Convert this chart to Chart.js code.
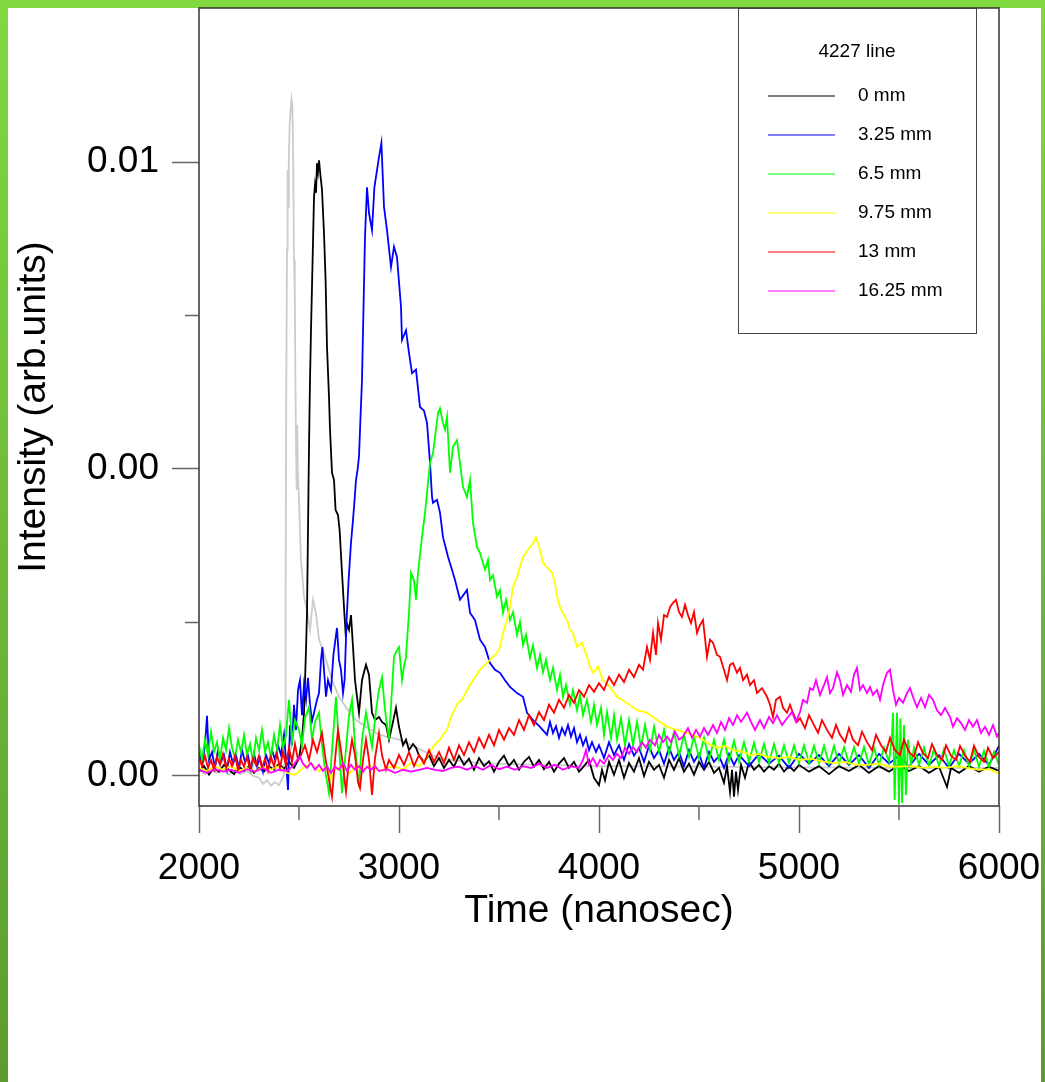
<!DOCTYPE html>
<html>
<head>
<meta charset="utf-8">
<title>4227 line</title>
<script src="https://cdn.jsdelivr.net/npm/chart.js@4.4.1/dist/chart.umd.min.js"></script>
<style>
  html, body { margin: 0; padding: 0; }
  body { width: 1045px; height: 1082px; overflow: hidden; position: relative;
         background: linear-gradient(to bottom, #80d941, #5c9c2f); }
  #paper { position: absolute; left: 8px; top: 8px; width: 1033px; height: 1074px; background: #fff; }
  #plot { position: absolute; left: 0; top: 0; }
</style>
</head>
<body>
<div id="paper"></div>
<canvas id="plot" width="1045" height="1082"></canvas>
<script>
// [time (ns), intensity (arb. units)]

// early trace, light grey, not in the legend
var greyTrace = [
  [2000,0.0001],[2030,0.00003],[2060,0.00013],[2090,0.00005],[2120,0.0001],[2150,0.00002],[2180,0.00011],[2210,0.00003],
  [2240,0.00008],[2270,0],[2300,-0.00003],[2320,-0.00013],[2340,-0.00007],[2360,-0.00016],[2380,-0.0001],[2400,-0.00015],
  [2415,-0.00005],[2425,0.00002],[2430,0.00059],[2433,0.00287],[2436,0.00612],[2440,0.00857],[2443,0.00987],[2446,0.00927],
  [2449,0.01003],[2453,0.0106],[2458,0.01085],[2463,0.01103],[2467,0.01093],[2471,0.01003],[2475,0.0084],[2479,0.00787],
  [2482,0.00645],[2485,0.00547],[2488,0.00466],[2491,0.00572],[2495,0.00482],[2500,0.0045],[2510,0.00352],[2525,0.00292],
  [2540,0.0027],[2555,0.00238],[2570,0.00287],[2585,0.00265],[2600,0.00222],[2620,0.00205],[2640,0.00184],[2665,0.00156],
  [2700,0.00129],[2735,0.00112],[2785,0.00091],[2835,0.0008],[2885,0.0007],[2935,0.00064],[3000,0.00059],[3085,0.00046],
  [3200,0.00029],[3400,0.00021],[3700,0.00018],[4000,0.00016],[4500,0.00015],[5000,0.00014],[5500,0.00013],[6000,0.00013]
];

// 0 mm
var trace0mm = [
  [2000,0.00007],[2025,0.00016],[2050,0.00002],[2075,0.00013],[2100,0.00007],[2125,0.00018],[2150,0.0001],[2175,0.00003],
  [2200,0.00015],[2225,0.00008],[2250,0.00016],[2275,0.00005],[2300,0.00013],[2325,0.00007],[2350,0.00016],[2375,0.0001],
  [2400,0.0002],[2425,0.00011],[2450,0.00023],[2475,0.00013],[2500,0.00029],[2515,0.00059],[2525,0.00103],[2535,0.00205],
  [2540,0.00265],[2545,0.00401],[2550,0.00536],[2555,0.00645],[2560,0.00726],[2568,0.0084],[2575,0.00943],[2580,0.00963],
  [2585,0.0095],[2590,0.00998],[2595,0.00984],[2600,0.01003],[2607,0.00979],[2615,0.00955],[2625,0.00884],[2633,0.00808],
  [2640,0.00699],[2650,0.00617],[2655,0.00564],[2665,0.00494],[2675,0.00482],[2683,0.00433],[2695,0.00425],[2703,0.00401],
  [2715,0.00331],[2725,0.00275],[2733,0.00233],[2742,0.00246],[2750,0.00238],[2760,0.00262],[2770,0.0021],[2780,0.00156],
  [2790,0.00129],[2800,0.00103],[2815,0.00156],[2825,0.00169],[2835,0.00181],[2850,0.00165],[2865,0.00103],[2880,0.00091],
  [2900,0.00096],[2915,0.00088],[2935,0.00083],[2950,0.00059],[2970,0.00088],[2985,0.00111],[3000,0.0008],[3020,0.0005],
  [3035,0.00059],[3050,0.00042],[3070,0.00052],[3085,0.00046],[3100,0.00033],[3125,0.00023],[3150,0.00034],[3175,0.00016],
  [3200,0.00029],[3225,0.00013],[3250,0.00026],[3275,0.00015],[3300,0.00033],[3325,0.00018],[3350,0.00028],[3375,0.0001],
  [3400,0.00029],[3425,0.00016],[3450,0.00024],[3475,0.00007],[3500,0.00023],[3525,0.00033],[3550,0.00016],[3575,0.00026],
  [3600,0.0001],[3625,0.00023],[3650,0.00031],[3675,0.00015],[3700,0.00026],[3725,0.00011],[3750,0.00023],[3775,0.00007],
  [3800,0.0002],[3825,0.00029],[3850,0.00013],[3875,0.00023],[3900,0.00007],[3925,0.00016],[3950,0.00026],[3975,-0.00003],
  [4000,-0.00015],[4015,0.0001],[4030,-0.00007],[4050,0.00023],[4075,0.00002],[4100,0.00026],[4125,-0.00003],[4150,0.00021],
  [4175,0.00007],[4200,0.00029],[4225,0],[4250,0.00023],[4275,0.0001],[4300,0.00018],[4325,-0.00003],[4350,0.00026],
  [4375,0.0001],[4400,0.00029],[4425,0.00007],[4450,0.0002],[4475,0.00002],[4500,0.00023],[4525,0.0001],[4550,0.00023],
  [4575,0.00005],[4600,0.00013],[4625,-0.00011],[4640,0.00016],[4655,-0.00026],[4665,0.0001],[4675,-0.00034],[4685,0.00007],
  [4695,-0.00023],[4710,0.00018],[4730,-0.00003],[4750,0.00023],[4775,0.0001],[4800,0.00018],[4825,0.00007],[4850,0.00016],
  [4875,0.0001],[4900,0.0002],[4925,0.00007],[4950,0.00016],[4975,0.00008],[5000,0.00018],[5050,0.00007],[5100,0.00016],
  [5150,0.00003],[5200,0.00016],[5250,0.00008],[5300,0.00018],[5350,0.00005],[5400,0.00016],[5450,0.00007],[5500,0.00018],
  [5550,0.00008],[5600,0.00016],[5650,0.00005],[5700,0.00015],[5740,-0.00018],[5760,0.00013],[5800,0.00005],[5850,0.00016],
  [5900,0.00007],[5950,0.00015],[6000,0.00008]
];

// 3.25 mm
var trace325mm = [
  [2000,0.00039],[2015,0.00018],[2030,0.0005],[2040,0.00098],[2050,0.00026],[2065,0.00039],[2080,0.00013],[2095,0.00042],
  [2110,0.00023],[2125,0.00034],[2140,0.0001],[2155,0.00039],[2170,0.0002],[2185,0.00033],[2200,0.00013],[2215,0.00042],
  [2230,0.00023],[2245,0.00033],[2260,0.0001],[2275,0.00036],[2290,0.00016],[2305,0.00029],[2320,0.00007],[2335,0.00034],
  [2350,0.0002],[2365,0.00042],[2380,0.00026],[2395,0.0005],[2410,0.00034],[2425,0.00067],[2435,0.00026],[2445,-0.00023],
  [2455,0.00083],[2465,0.0005],[2475,0.00116],[2485,0.00075],[2495,0.0014],[2505,0.00156],[2515,0.00099],[2525,0.00148],
  [2535,0.00124],[2545,0.0016],[2555,0.00116],[2565,0.00089],[2575,0.00103],[2590,0.00124],[2600,0.00135],[2610,0.00189],
  [2617,0.0021],[2625,0.00173],[2635,0.00129],[2645,0.00156],[2660,0.0014],[2672,0.00197],[2682,0.00222],[2690,0.00241],
  [2700,0.00189],[2710,0.00173],[2720,0.00135],[2728,0.00156],[2738,0.00254],[2748,0.00319],[2760,0.0038],[2770,0.00417],
  [2778,0.0045],[2785,0.00482],[2793,0.00499],[2800,0.0052],[2807,0.0058],[2815,0.00645],[2822,0.00754],[2830,0.00878],
  [2840,0.00959],[2850,0.00917],[2865,0.00889],[2877,0.00959],[2890,0.00987],[2900,0.01008],[2912,0.01031],[2925,0.00927],
  [2940,0.00889],[2960,0.00829],[2975,0.00862],[2990,0.00845],[3010,0.00764],[3015,0.0071],[3035,0.00726],[3050,0.00689],
  [3065,0.00656],[3085,0.00662],[3105,0.00601],[3125,0.00595],[3140,0.00575],[3155,0.0051],[3165,0.00455],[3170,0.00445],
  [3190,0.0045],[3205,0.00429],[3220,0.00389],[3245,0.00357],[3265,0.00336],[3280,0.00319],[3305,0.00287],[3340,0.00303],
  [3355,0.00266],[3380,0.00254],[3405,0.00222],[3430,0.0021],[3455,0.00184],[3480,0.00173],[3505,0.00168],[3530,0.00156],
  [3555,0.00145],[3590,0.00135],[3620,0.00129],[3640,0.00103],[3670,0.00091],[3705,0.0008],[3740,0.00067],[3755,0.00088],
  [3770,0.0007],[3785,0.00081],[3800,0.00062],[3815,0.00078],[3830,0.00067],[3845,0.00083],[3860,0.00064],[3875,0.00078],
  [3890,0.00055],[3905,0.00067],[3920,0.0005],[3935,0.00062],[3950,0.00042],[3965,0.00055],[3985,0.00039],[4000,0.0005],
  [4025,0.00029],[4050,0.00055],[4075,0.00034],[4100,0.0005],[4125,0.00026],[4150,0.00052],[4175,0.00033],[4200,0.00046],
  [4225,0.00023],[4250,0.00049],[4275,0.00029],[4300,0.00042],[4325,0.0002],[4350,0.00046],[4375,0.00026],[4400,0.00039],
  [4425,0.00016],[4450,0.00042],[4475,0.00023],[4500,0.00036],[4525,0.00013],[4550,0.00039],[4575,0.00023],[4600,0.00033],
  [4625,0.00013],[4650,0.00036],[4675,0.00018],[4700,0.00034],[4750,0.00016],[4800,0.00036],[4850,0.0002],[4900,0.00033],
  [4950,0.00013],[5000,0.00036],[5050,0.0002],[5100,0.00034],[5150,0.00016],[5200,0.00036],[5250,0.00018],[5300,0.00034],
  [5350,0.00013],[5400,0.00036],[5450,0.0002],[5500,0.00033],[5550,0.00015],[5600,0.00036],[5650,0.00018],[5700,0.00034],
  [5750,0.00013],[5800,0.00036],[5850,0.0002],[5900,0.00036],[5950,0.00018],[6000,0.00049]
];

// 6.5 mm
var trace65mm = [
  [2000,0.0005],[2015,0.00026],[2030,0.00059],[2045,0.00034],[2060,0.00072],[2075,0.00039],[2090,0.00055],[2105,0.00026],
  [2120,0.00062],[2135,0.00042],[2150,0.00078],[2165,0.00046],[2180,0.00029],[2195,0.00059],[2210,0.00039],[2225,0.00067],
  [2240,0.00034],[2255,0.00052],[2270,0.00023],[2285,0.00062],[2300,0.00042],[2315,0.00075],[2330,0.00039],[2345,0.00055],
  [2360,0.00029],[2375,0.00067],[2390,0.00042],[2405,0.00083],[2420,0.00046],[2435,0.00067],[2450,0.00124],[2465,0.00055],
  [2480,0.00091],[2500,0.00075],[2515,0.0005],[2530,0.00094],[2550,0.00112],[2565,0.00059],[2580,0.00088],[2600,0.00103],
  [2615,0.0005],[2630,0.0001],[2650,-0.00028],[2665,0.00042],[2685,0.00129],[2700,0.0005],[2715,-0.00028],[2730,0.00026],
  [2750,0.00099],[2765,0.00124],[2780,0.0005],[2800,-0.00018],[2815,0.00059],[2835,0.00103],[2850,0.00075],[2865,0.00047],
  [2885,0.00107],[2900,0.0014],[2915,0.00161],[2930,0.00107],[2950,0.00059],[2962,0.00124],[2975,0.00194],[2990,0.00205],
  [3000,0.0021],[3015,0.00156],[3025,0.00179],[3035,0.00194],[3042,0.0023],[3050,0.00265],[3060,0.00331],[3075,0.00319],
  [3085,0.00287],[3095,0.00331],[3105,0.0036],[3115,0.00389],[3130,0.00428],[3140,0.00461],[3155,0.0051],[3170,0.00526],
  [3180,0.00552],[3195,0.00591],[3205,0.00599],[3220,0.00575],[3230,0.00564],[3240,0.00585],[3255,0.00494],[3270,0.00536],
  [3290,0.00547],[3305,0.0051],[3320,0.00471],[3340,0.00454],[3355,0.00482],[3370,0.00412],[3390,0.00373],[3405,0.00363],
  [3430,0.00336],[3445,0.00352],[3455,0.00319],[3470,0.00327],[3490,0.00292],[3505,0.00303],[3520,0.00266],[3535,0.00287],
  [3555,0.00254],[3570,0.00267],[3590,0.0023],[3605,0.00251],[3620,0.00213],[3635,0.0023],[3655,0.00192],[3670,0.00213],
  [3690,0.00176],[3705,0.00197],[3720,0.00169],[3735,0.00189],[3755,0.00156],[3770,0.00176],[3790,0.0014],[3805,0.00165],
  [3820,0.00129],[3835,0.00148],[3855,0.00116],[3870,0.0014],[3890,0.00107],[3905,0.00132],[3920,0.00099],[3940,0.00124],
  [3960,0.00088],[3975,0.00116],[3990,0.00083],[4010,0.00111],[4025,0.00067],[4040,0.00104],[4060,0.00062],[4075,0.00099],
  [4090,0.00059],[4110,0.00094],[4130,0.0005],[4150,0.00091],[4170,0.0005],[4190,0.00088],[4210,0.00046],[4230,0.00083],
  [4255,0.00042],[4275,0.0008],[4300,0.00039],[4325,0.00075],[4350,0.00036],[4375,0.00072],[4400,0.00033],[4425,0.00067],
  [4450,0.00031],[4475,0.00064],[4500,0.00029],[4525,0.00062],[4550,0.00026],[4575,0.00059],[4600,0.00026],[4625,0.00059],
  [4650,0.00024],[4675,0.00057],[4700,0.00023],[4725,0.00055],[4750,0.00023],[4775,0.00054],[4800,0.00023],[4825,0.00052],
  [4850,0.00021],[4875,0.00052],[4900,0.00021],[4925,0.0005],[4950,0.00021],[4975,0.0005],[5000,0.00021],[5025,0.0005],
  [5050,0.00021],[5075,0.00049],[5100,0.00021],[5125,0.00049],[5150,0.0002],[5175,0.00049],[5200,0.0002],[5225,0.00047],
  [5250,0.0002],[5275,0.00047],[5300,0.0002],[5325,0.00047],[5350,0.00018],[5375,0.00046],[5400,0.00018],[5425,0.00046],
  [5450,0.00023],[5465,0.00067],[5470,0.00103],[5478,-0.00039],[5490,0.00103],[5500,-0.00047],[5507,0.00094],[5515,-0.00044],
  [5525,0.00083],[5535,-0.00031],[5545,0.00059],[5560,0.00018],[5575,0.00046],[5600,0.00018],[5625,0.00046],[5650,0.00016],
  [5675,0.00044],[5700,0.00016],[5725,0.00044],[5750,0.00016],[5775,0.00042],[5800,0.00016],[5825,0.00042],[5850,0.00015],
  [5875,0.00042],[5900,0.00015],[5925,0.00041],[5950,0.00015],[5975,0.00039],[6000,0.00018]
];

// 9.75 mm
var trace975mm = [
  [2000,0.00013],[2040,0.00008],[2080,0.00015],[2120,0.0001],[2160,0.00016],[2200,0.00008],[2240,0.00013],[2280,0.00007],
  [2320,0.00015],[2360,0.0001],[2400,0.00016],[2440,0.00005],[2480,0.00002],[2520,0.00013],[2560,0.00021],[2600,0.00008],
  [2640,0.00016],[2660,-0.00005],[2680,0.0001],[2720,0.00018],[2750,0.00003],[2780,0.00015],[2820,0.0001],[2860,0.00016],
  [2900,0.00008],[2940,0.00013],[2980,0.00016],[3020,0.0001],[3060,0.00021],[3100,0.00016],[3130,0.00026],[3150,0.00036],
  [3170,0.00047],[3190,0.00055],[3205,0.00059],[3220,0.00067],[3240,0.00075],[3255,0.00091],[3270,0.00103],[3295,0.00119],
  [3315,0.00124],[3340,0.0014],[3370,0.00156],[3405,0.00173],[3440,0.00184],[3470,0.00194],[3490,0.002],[3505,0.0021],
  [3520,0.00233],[3540,0.00254],[3555,0.00275],[3570,0.00308],[3590,0.00324],[3605,0.0034],[3620,0.00357],[3645,0.00368],
  [3670,0.00379],[3685,0.00389],[3705,0.00368],[3720,0.00347],[3740,0.0034],[3765,0.00331],[3780,0.00314],[3790,0.00292],
  [3805,0.00275],[3820,0.00265],[3840,0.00254],[3855,0.00238],[3870,0.00233],[3890,0.0021],[3915,0.00217],[3940,0.00194],
  [3955,0.00178],[3970,0.00168],[3995,0.00178],[4020,0.00156],[4055,0.00145],[4090,0.00129],[4140,0.00119],[4190,0.00107],
  [4240,0.00103],[4290,0.00091],[4340,0.0008],[4390,0.00075],[4440,0.0007],[4505,0.00062],[4550,0.00052],[4590,0.00046],
  [4630,0.00049],[4670,0.00042],[4720,0.00039],[4760,0.00034],[4800,0.00036],[4840,0.00031],[4900,0.00029],[4950,0.00031],
  [5005,0.00026],[5060,0.00028],[5110,0.00024],[5170,0.00021],[5230,0.00023],[5290,0.00018],[5340,0.00018],[5400,0.0002],
  [5450,0.00015],[5505,0.00015],[5560,0.00016],[5620,0.00013],[5670,0.00015],[5730,0.00013],[5790,0.00016],[5840,0.00013],
  [5900,0.0001],[5950,0.00011],[5990,0.00005],[6000,0.00008]
];

// 13 mm
var trace13mm = [
  [2000,0.00029],[2015,0.00016],[2030,0.00033],[2045,0.00013],[2060,0.00026],[2075,0.0001],[2090,0.00031],[2105,0.00018],
  [2120,0.00036],[2135,0.00013],[2150,0.00028],[2165,0.00016],[2180,0.00033],[2195,0.0001],[2210,0.00026],[2225,0.00015],
  [2240,0.00031],[2255,0.00011],[2270,0.00029],[2285,0.00018],[2300,0.00033],[2315,0.00013],[2330,0.00028],[2345,0.00008],
  [2360,0.00031],[2375,0.00016],[2390,0.00036],[2405,0.00013],[2420,0.00039],[2435,0.00018],[2450,0.00046],[2465,0.00023],
  [2480,0.00052],[2495,0.00026],[2510,0.00034],[2530,0.0005],[2550,0.00026],[2570,0.00059],[2590,0.00039],[2615,0.0007],
  [2630,0.00034],[2650,-0.00007],[2665,-0.00034],[2680,0.00026],[2695,0.00075],[2710,0.00042],[2725,0.00002],[2735,-0.00026],
  [2750,0.00026],[2765,0.00059],[2780,0.00034],[2795,-0.0001],[2805,-0.0002],[2820,0.00026],[2835,0.00059],[2850,0.00026],
  [2865,-0.00031],[2880,0.00029],[2900,0.0007],[2915,0.00034],[2935,0.0001],[2950,0.00026],[2975,0.00013],[3000,0.00034],
  [3025,0.00018],[3050,0.00039],[3075,0.00016],[3100,0.00034],[3125,0.0002],[3150,0.00042],[3175,0.00023],[3200,0.00039],
  [3225,0.00021],[3250,0.00046],[3275,0.00026],[3300,0.0005],[3325,0.00034],[3350,0.00055],[3375,0.00039],[3400,0.00062],
  [3425,0.00046],[3450,0.00067],[3475,0.0005],[3500,0.00075],[3525,0.00059],[3550,0.00078],[3575,0.00067],[3600,0.00091],
  [3625,0.00075],[3650,0.00099],[3675,0.00083],[3700,0.00104],[3725,0.00091],[3750,0.00116],[3775,0.00103],[3800,0.00124],
  [3825,0.00111],[3850,0.00132],[3875,0.00119],[3900,0.0014],[3925,0.00129],[3950,0.00148],[3975,0.00137],[4000,0.00151],
  [4025,0.0014],[4050,0.00161],[4075,0.00148],[4100,0.00165],[4125,0.00153],[4150,0.00173],[4175,0.00161],[4200,0.00181],
  [4220,0.00173],[4240,0.0021],[4255,0.00189],[4270,0.00233],[4285,0.00197],[4295,0.00249],[4310,0.00222],[4325,0.00262],
  [4340,0.00259],[4355,0.00275],[4370,0.00282],[4385,0.00287],[4400,0.00267],[4415,0.00259],[4430,0.00279],[4445,0.00262],
  [4460,0.00249],[4475,0.00267],[4490,0.00233],[4505,0.00246],[4520,0.00254],[4540,0.00194],[4555,0.00222],[4570,0.00217],
  [4590,0.00197],[4605,0.00194],[4625,0.00173],[4640,0.00156],[4655,0.00181],[4670,0.00184],[4690,0.00168],[4705,0.00176],
  [4720,0.00156],[4740,0.00165],[4755,0.00148],[4775,0.00156],[4790,0.00135],[4815,0.00143],[4840,0.00129],[4855,0.00116],
  [4870,0.00096],[4885,0.00124],[4905,0.00129],[4920,0.00111],[4940,0.00103],[4955,0.00116],[4970,0.00103],[4990,0.00088],
  [5005,0.00094],[5030,0.00078],[5050,0.00099],[5070,0.00086],[5095,0.0007],[5115,0.00091],[5140,0.00075],[5165,0.00062],
  [5185,0.00083],[5205,0.00067],[5230,0.00055],[5250,0.00078],[5270,0.00059],[5295,0.0005],[5315,0.00072],[5340,0.00055],
  [5365,0.00042],[5385,0.00067],[5410,0.0005],[5435,0.00039],[5455,0.00062],[5480,0.00042],[5505,0.00034],[5525,0.00059],
  [5550,0.00039],[5575,0.00031],[5595,0.00055],[5620,0.00037],[5645,0.00029],[5665,0.00052],[5690,0.00034],[5715,0.00026],
  [5735,0.0005],[5760,0.00033],[5785,0.00026],[5805,0.00049],[5830,0.00033],[5855,0.00023],[5875,0.00049],[5900,0.00031],
  [5925,0.00023],[5945,0.00046],[5970,0.00029],[6000,0.00039]
];

// 16.25 mm
var trace1625mm = [
  [2000,0.0001],[2040,0.00005],[2080,0.00011],[2120,0.00007],[2160,0.0001],[2200,0.00005],[2240,0.00011],[2280,0.00007],
  [2320,0.00013],[2360,0.00005],[2400,0.0001],[2440,0.00008],[2470,0.00016],[2490,0.00026],[2505,0.00031],[2520,0.0002],
  [2540,0.00013],[2560,0.00021],[2580,0.0001],[2600,0.00018],[2620,0.00008],[2640,0.00016],[2660,0.00005],[2680,0.00015],
  [2700,0.0001],[2720,0.00021],[2740,0.00008],[2760,0.00018],[2780,0.0001],[2800,0.00016],[2820,0.00007],[2840,0.00015],
  [2860,0.0001],[2880,0.00016],[2900,0.00008],[2940,0.00011],[2980,0.00005],[3020,0.0001],[3060,0.00007],[3100,0.0001],
  [3140,0.00013],[3180,0.0001],[3220,0.00008],[3260,0.00013],[3300,0.00015],[3340,0.0001],[3380,0.00016],[3420,0.0001],
  [3460,0.00018],[3500,0.00011],[3540,0.00015],[3580,0.0001],[3620,0.00016],[3660,0.00013],[3700,0.0002],[3740,0.00013],
  [3780,0.00018],[3820,0.0001],[3860,0.00016],[3900,0.00013],[3920,0.00026],[3935,0.00042],[3950,0.00018],[3970,0.00029],
  [3990,0.00016],[4005,0.00026],[4025,0.0002],[4050,0.00034],[4070,0.00026],[4090,0.00036],[4110,0.00029],[4130,0.00046],
  [4150,0.00036],[4170,0.00047],[4190,0.00039],[4215,0.00055],[4235,0.00046],[4255,0.00059],[4280,0.0005],[4300,0.00067],
  [4320,0.00055],[4340,0.00064],[4360,0.00055],[4380,0.00072],[4400,0.00059],[4420,0.00064],[4445,0.00078],[4465,0.00062],
  [4485,0.00075],[4505,0.00064],[4525,0.00078],[4545,0.00067],[4570,0.00083],[4590,0.0007],[4610,0.00088],[4630,0.00075],
  [4650,0.00094],[4670,0.00083],[4690,0.00099],[4710,0.00088],[4740,0.00103],[4760,0.00088],[4780,0.00075],[4805,0.00091],
  [4825,0.00078],[4850,0.00096],[4870,0.00086],[4890,0.00099],[4915,0.00083],[4940,0.00094],[4965,0.00104],[4985,0.00088],
  [5005,0.00104],[5020,0.00124],[5040,0.00119],[5055,0.00143],[5070,0.0014],[5085,0.00156],[5105,0.00132],[5125,0.00148],
  [5140,0.00161],[5155,0.00135],[5170,0.00143],[5190,0.00169],[5205,0.00156],[5220,0.00132],[5240,0.00148],[5260,0.00137],
  [5275,0.00165],[5290,0.00176],[5305,0.0014],[5320,0.00148],[5340,0.00135],[5355,0.00145],[5370,0.00132],[5390,0.0014],
  [5405,0.00124],[5420,0.00148],[5440,0.00168],[5455,0.00173],[5470,0.0014],[5485,0.00116],[5500,0.00127],[5520,0.00119],
  [5540,0.00135],[5555,0.00143],[5575,0.00124],[5590,0.00112],[5610,0.00127],[5630,0.00112],[5650,0.00132],[5670,0.00124],
  [5690,0.00107],[5710,0.00099],[5730,0.00111],[5755,0.00096],[5770,0.0008],[5790,0.00094],[5810,0.00086],[5830,0.00075],
  [5850,0.00091],[5870,0.0008],[5890,0.00091],[5910,0.0007],[5930,0.0008],[5950,0.00067],[5970,0.00083],[5990,0.00064],
  [6000,0.0007]
];

var seriesTraces = [trace0mm, trace325mm, trace65mm, trace975mm, trace13mm, trace1625mm];
var seriesLabels = ['0 mm', '3.25 mm', '6.5 mm', '9.75 mm', '13 mm', '16.25 mm'];
var seriesColors = ['#000000', '#0000ff', '#00ff00', '#ffff00', '#ff0000', '#ff00ff'];
var legendTitle = '4227 line';

var xTicks = [2000, 3000, 4000, 5000, 6000];
var xMinorTicks = [2500, 3500, 4500, 5500];
var yTicks = [0, 0.005, 0.01];
var yTickLabels = ['0.00', '0.00', '0.01'];
var yMinorTicks = [0.0025, 0.0075];

var FONT = '"Liberation Sans", Arial, sans-serif';

function toPoints(arr) {
  return arr.map(function (p) { return { x: p[0], y: p[1] }; });
}

// keep tick labels from pushing the plot box inwards
function noEdgePadding(s) {
  s.paddingTop = 0;
  s.paddingBottom = 0;
  s.paddingLeft = 0;
  s.paddingRight = 0;
}

var datasets = seriesTraces.map(function (tr, i) {
  return {
    label: seriesLabels[i],
    data: toPoints(tr),
    borderColor: seriesColors[i],
    borderWidth: 1.8,
    pointRadius: 0,
    tension: 0,
    order: 5 - i   // last series drawn on top
  };
});
datasets.push({
  label: '',
  data: toPoints(greyTrace),
  borderColor: '#cccccc',
  borderWidth: 1.8,
  pointRadius: 0,
  tension: 0,
  order: 6
});

// plot frame, minor ticks and the boxed legend
var framePlugin = {
  id: 'frame',
  afterDraw: function (chart) {
    var ctx = chart.ctx, a = chart.chartArea;
    var xs = chart.scales.x, ys = chart.scales.y;
    ctx.save();
    ctx.strokeStyle = '#333';
    ctx.lineWidth = 1.5;
    ctx.strokeRect(a.left, a.top, a.right - a.left, a.bottom - a.top);

    ctx.strokeStyle = '#666';
    ctx.lineWidth = 1.5;
    ctx.beginPath();
    xMinorTicks.forEach(function (v) {
      var px = xs.getPixelForValue(v);
      ctx.moveTo(px, a.bottom);
      ctx.lineTo(px, a.bottom + 14);
    });
    yMinorTicks.forEach(function (v) {
      var py = ys.getPixelForValue(v);
      ctx.moveTo(a.left, py);
      ctx.lineTo(a.left - 14, py);
    });
    ctx.stroke();

    // legend
    var bw = 238, bh = 325;
    var bx = a.right - 23 - bw, by = a.top;
    ctx.fillStyle = '#fff';
    ctx.fillRect(bx, by, bw, bh);
    ctx.strokeStyle = '#444';
    ctx.lineWidth = 1;
    ctx.strokeRect(bx + 0.5, by + 0.5, bw, bh);

    ctx.font = '19px ' + FONT;
    ctx.fillStyle = '#000';
    ctx.textBaseline = 'middle';
    ctx.textAlign = 'center';
    ctx.fillText(legendTitle, bx + bw / 2, by + 44);
    ctx.textAlign = 'left';
    seriesLabels.forEach(function (lab, i) {
      var ry = by + 88 + i * 39;
      ctx.strokeStyle = seriesColors[i];
      ctx.lineWidth = 1.2;
      ctx.beginPath();
      ctx.moveTo(bx + 30, ry);
      ctx.lineTo(bx + 97, ry);
      ctx.stroke();
      ctx.fillStyle = '#000';
      ctx.fillText(lab, bx + 120, ry);
    });
    ctx.restore();
  }
};

var ctx = document.getElementById('plot').getContext('2d');
var chart = new Chart(ctx, {
  type: 'line',
  data: { datasets: datasets },
  options: {
    responsive: false,
    animation: false,
    devicePixelRatio: 1,
    layout: { autoPadding: false, padding: { left: 0, right: 46, top: 8, bottom: 126 } },
    plugins: {
      legend: { display: false },
      tooltip: { enabled: false }
    },
    scales: {
      x: {
        type: 'linear',
        min: 2000,
        max: 6000,
        afterBuildTicks: function (s) { s.ticks = xTicks.map(function (v) { return { value: v }; }); },
        afterFit: function (s) { s.height = 150; noEdgePadding(s); },
        border: { display: false },
        grid: { drawOnChartArea: false, drawTicks: true, tickLength: 27, tickColor: '#666', tickWidth: 1.5 },
        ticks: {
          color: '#000',
          padding: 14,
          maxRotation: 0,
          autoSkip: false,
          font: { family: FONT, size: 37 },
          callback: function (v) { return String(v); }
        },
        title: {
          display: true,
          text: 'Time (nanosec)',
          color: '#000',
          font: { family: FONT, size: 39 },
          padding: { top: 0, bottom: 21 }
        }
      },
      y: {
        type: 'linear',
        min: -0.00049,
        max: 0.01251,
        afterBuildTicks: function (s) { s.ticks = yTicks.map(function (v) { return { value: v }; }); },
        afterFit: function (s) { s.width = 199; noEdgePadding(s); },
        border: { display: false },
        grid: { drawOnChartArea: false, drawTicks: true, tickLength: 27, tickColor: '#666', tickWidth: 1.5 },
        ticks: {
          color: '#000',
          padding: 13,
          font: { family: FONT, size: 37 },
          callback: function (v) { return yTickLabels[yTicks.indexOf(v)]; }
        },
        title: {
          display: true,
          text: 'Intensity (arb.units)',
          color: '#000',
          font: { family: FONT, size: 39 },
          padding: { top: 11, bottom: 0 }
        }
      }
    }
  },
  plugins: [framePlugin]
});
</script>
</body>
</html>
